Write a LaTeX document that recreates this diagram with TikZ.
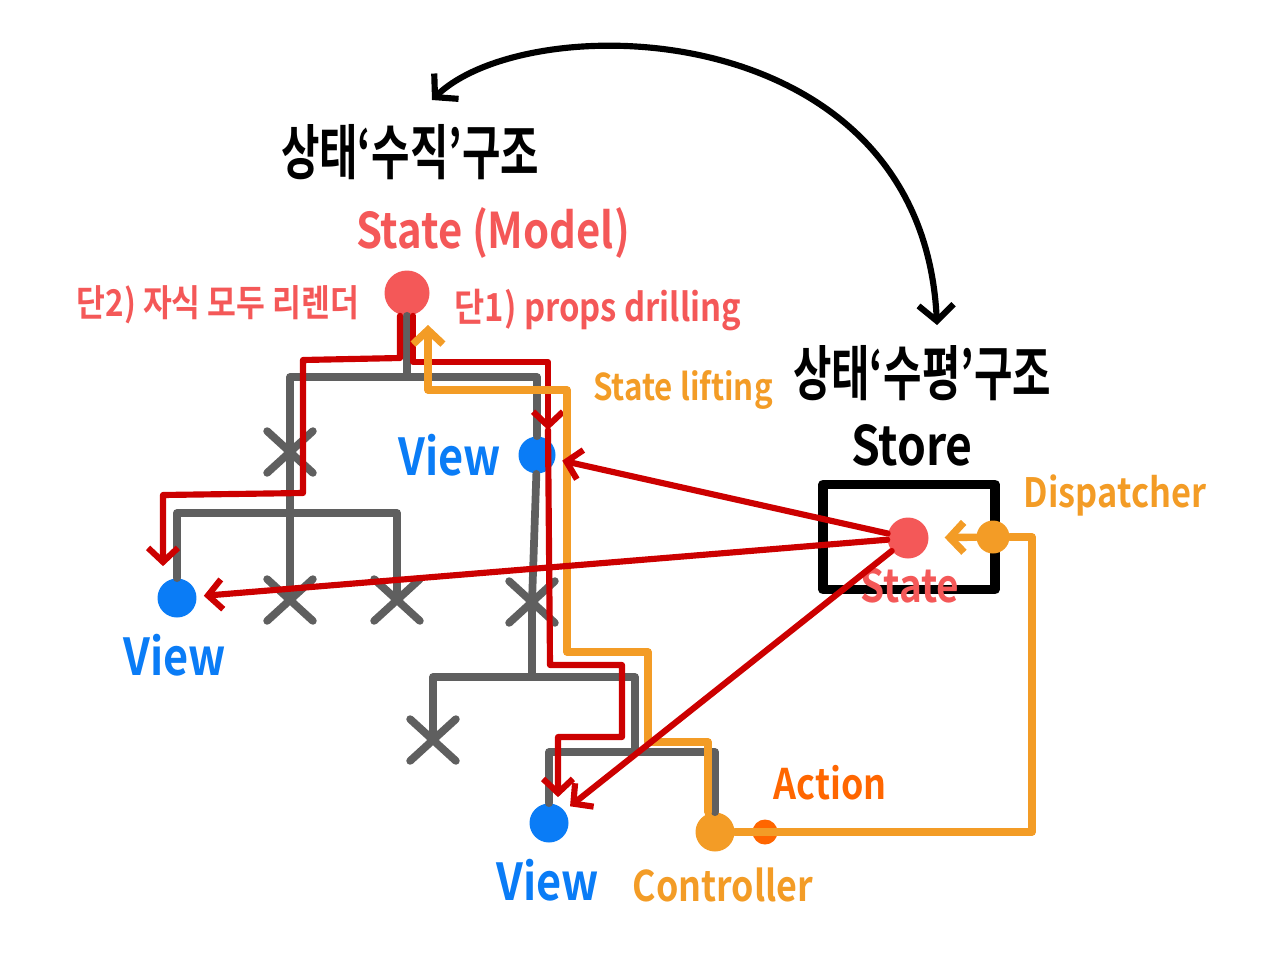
\documentclass[tikz,border=0pt]{standalone}
\usepackage{fontspec}
\setmainfont{Noto Sans CJK KR}[BoldFont={Noto Sans CJK KR Bold}]
\newfontfamily\handfont{Noto Sans CJK KR Bold}[FakeStretch=0.85]
\newfontfamily\titlefont{Noto Sans CJK KR Bold}[FakeStretch=0.7]
\definecolor{myTreeGray}{RGB}{95,95,95}
\definecolor{myDeepRed}{RGB}{204,0,0}
\definecolor{mySoftRed}{RGB}{244,88,88}
\definecolor{myOrange}{RGB}{243,156,38}
\definecolor{myActionOrange}{RGB}{255,102,0}
\definecolor{myBlue}{RGB}{10,124,246}
\usetikzlibrary{arrows.meta, positioning, calc, shapes.misc}

\begin{document}
\begin{tikzpicture}[x=0.02cm, y=-0.02cm, line cap=round, line join=round,
  tree/.style={myTreeGray, line width=4.4pt},
  xmark/.style={cross out, draw=myTreeGray, line width=4.4pt, minimum width=0.76cm, minimum height=0.68cm, inner sep=0pt},
  viewdot/.style={circle, fill=myBlue, minimum size=0.78cm, inner sep=0pt},
  redflow/.style={myDeepRed, line width=3.5pt},
  orangeflow/.style={myOrange, line width=4.2pt},
  barb/.style={-{Straight Barb[length=8pt, width=17pt]}},
  hand/.style={font=\handfont\fontsize{#1}{#1}\selectfont, inner sep=1pt},
  headline/.style={font=\titlefont\fontsize{#1}{#1}\selectfont, inner sep=1pt}]
  \useasboundingbox (0,0) rectangle (1280,977);

  % titles and the swap arrow
  \node[headline=34pt] (vtitle) at (410,152) {상태‘수직’구조};
  \node[headline=34pt] (htitle) at (922,373) {상태‘수평’구조};
  \coordinate (arcL) at (432,100);
  \coordinate (arcR) at (937,325);
  \draw[line width=3.5pt, {Straight Barb[length=9pt, width=20pt]}-{Straight Barb[length=9pt, width=20pt]}]
    (arcL) .. controls (530,6) and (922,14) .. (arcR);

  % vertical tree
  \node[hand=28pt, text=mySoftRed] (modelname) at (493,233) {State (Model)};
  \node[circle, fill=mySoftRed, minimum size=0.9cm, inner sep=0pt] (model) at (407,293) {};
  \node[hand=21pt, text=mySoftRed] (noteTwo) at (218,305) {단2) 자식 모두 리렌더};
  \node[hand=22pt, text=mySoftRed] (noteOne) at (598,310) {단1) props drilling};
  \node[hand=21pt, text=myOrange] (liftnote) at (683,390) {State lifting};

  \node[viewdot] (v1) at (177,598) {};
  \node[viewdot, minimum size=0.74cm] (v2) at (537,455) {};
  \node[viewdot] (v3) at (549,823) {};
  \node[hand=29pt, text=myBlue] (vname1) at (175,655) {View};
  \node[hand=29pt, text=myBlue] (vname2) at (450,455) {View};
  \node[hand=29pt, text=myBlue] (vname3) at (548,880) {View};

  \node[xmark] (x1) at (290,452) {};
  \node[xmark] (x2) at (397,600) {};
  \node[xmark] (x3) at (290,600) {};
  \node[xmark] (x4) at (532,602) {};
  \node[xmark] (x5) at (433,740) {};

  \node[circle, fill=myOrange, minimum size=0.78cm, inner sep=0pt] (ctrl) at (715,832) {};
  \node[circle, fill=myActionOrange, minimum size=0.5cm, inner sep=0pt] (act) at (765,832) {};
  \node[hand=24pt, text=myOrange] (ctrlname) at (723,885) {Controller};
  \node[hand=24pt, text=myActionOrange] (actname) at (830,783) {Action};

  \coordinate (j0) at (407,377);
  \coordinate (j1) at (290,513);
  \coordinate (j2) at (532,677);
  \coordinate (j3) at (635,752);
  \draw[tree] (model) -- (j0);
  \draw[tree] (x1.center) |- (j0) -| (v2);
  \draw[tree] (x1.center) -- (x3.center);
  \draw[tree] (v1) |- (j1) -| (x2.center);
  \draw[tree] (v2) -- (x4.center) -- (j2);
  \draw[tree] (x5.center) |- (j2) -| (j3);
  \draw[tree] (v3) |- (j3) -| (ctrl);

  % store
  \node[hand=31pt] (storename) at (912,445) {Store};
  \node[draw, line width=5.5pt, minimum width=3.44cm, minimum height=2.1cm] (store) at (909,537) {};
  \node[circle, fill=mySoftRed, minimum size=0.82cm, inner sep=0pt] (state) at (908,538) {};
  \node[circle, fill=myOrange, minimum size=0.66cm, inner sep=0pt] (disp) at (993,537) {};
  \node[hand=26pt, text=mySoftRed] (statename) at (910,586) {State};
  \node[hand=23pt, text=myOrange] (dispname) at (1115,495) {Dispatcher};

  % props drilling and re-render
  \coordinate (midA) at (548,430);
  \draw[redflow, barb] ($(model.south)+(-7,0)$) -- (400,358) -- (303,360) -- (303,493) -- (163,495)
    -- ($(v1.north)+(-14,-12)$);
  \draw[redflow, barb] ($(model.south)+(6,0)$) -- (413,362) -- (548,362) -- (midA);
  \draw[redflow, barb] (midA) -- (550,665) -- (622,665) -- (622,737) -- (558,737)
    -- ($(v3.north)+(9,-6)$);

  % state lifting
  \coordinate (liftTip) at (428,325);
  \draw[orangeflow, barb] ($(ctrl.north)+(-7,0)$) -- (708,742) -- (648,742) -- (648,652) -- (567,652)
    -- (567,390) -- (428,390) -- (liftTip);
  \draw[orangeflow] (ctrl) -- (1032,832) |- (disp);
  \draw[orangeflow, barb, shorten >=9pt] (disp) -- (state);

  % store subscriptions
  \draw[redflow, barb, shorten >=4pt] (state) -- (v2);
  \draw[redflow, barb, shorten >=4pt] (state) -- (v1);
  \draw[redflow, barb, shorten >=4pt] (state) -- (v3);
\end{tikzpicture}
\end{document}
